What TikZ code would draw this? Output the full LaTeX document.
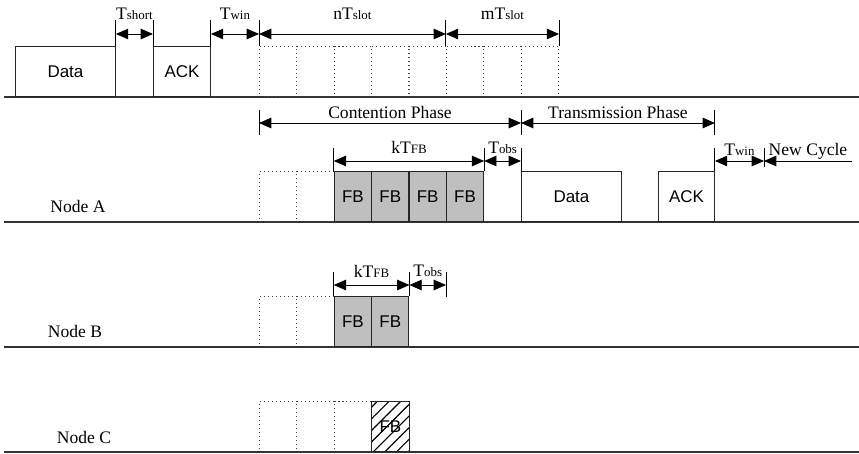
\documentclass[tikz,border=0pt]{standalone}
\usepackage{fontspec}
\setmainfont{Liberation Serif}
\setsansfont{Liberation Sans}
\usetikzlibrary{arrows.meta, positioning, patterns.meta}

\tikzset{
  base/.style={line width=1.3pt, black!80},
  box/.style={draw=black!85, line width=0.8pt, anchor=south west, inner sep=0pt,
    minimum height=1.5cm, font=\sffamily\fontsize{14.5}{16}\selectfont},
  slotbox/.style={draw=black!75, dash pattern=on 0.9pt off 2.5pt, line width=0.9pt,
    anchor=south west, minimum width=1.121cm, minimum height=1.5cm, inner sep=0pt},
  fbbox/.style={box, fill=black!25, minimum width=1.121cm},
  hatchbox/.style={box, minimum width=1.121cm,
    pattern={Lines[angle=45, distance=7pt, line width=1pt]}},
  tick/.style={line width=0.8pt},
  dim/.style={line width=0.8pt, {Triangle[length=10.5pt,width=9pt]}-{Triangle[length=10.5pt,width=9pt]}},
  oneway/.style={line width=0.8pt, -{Triangle[length=10.5pt,width=9pt]}},
  lbl/.style={font=\fontsize{15}{17}\selectfont, anchor=base, inner sep=0pt},
}
\newcommand{\sm}[1]{{\fontsize{11}{12}\selectfont #1}}

\begin{document}
\begin{tikzpicture}[x=0.03cm, y=-0.03cm]
  \useasboundingbox (0,0) rectangle (859,454);

  % previous cycle
  \draw[base] (4,97) -- (859,97);
  \node[box, minimum width=3cm] (data0) at (15,97) {Data};
  \node[box, minimum width=1.71cm] (ack0) at (153,97) {ACK};
  \foreach \i in {0,...,7}
    \node[slotbox] (s\i) at (259+37.375*\i,97) {};

  \coordinate (lvl0) at (0,20);
  \coordinate (arr0) at (0,34);
  \foreach \p in {data0.north east, ack0.north west, ack0.north east, s0.north west, s5.north west, s7.north east}
    \draw[tick] (\p) -- (\p |- lvl0);
  \draw[dim] (data0.north east |- arr0) -- node[lbl, yshift=12pt] {T\sm{short}} (ack0.north west |- arr0);
  \draw[dim] (ack0.north east |- arr0) -- node[lbl, yshift=12pt] {T\sm{win}} (s0.north west |- arr0);
  \draw[dim] (s0.north west |- arr0) -- node[lbl, yshift=12pt] {nT\sm{slot}} (s5.north west |- arr0);
  \draw[dim] (s5.north west |- arr0) -- node[lbl, yshift=12pt] {mT\sm{slot}} (s7.north east |- arr0);

  % Node A
  \draw[base] (4,222) -- (859,222);
  \node[lbl] (nodeA) at (78,213) {Node A};
  \foreach \i in {0,1}
    \node[slotbox] (a\i) at (259+37.375*\i,222) {};
  \foreach \i in {2,...,5}
    \node[fbbox] (fa\i) at (259+37.375*\i,222) {FB};
  \node[box, minimum width=3cm] (dataA) at (521,222) {Data};
  \node[box, minimum width=1.68cm] (ackA) at (658,222) {ACK};
  \coordinate (cyc) at (764,167);

  % phases
  \coordinate (lvl1) at (0,110);
  \coordinate (lvl1b) at (0,135);
  \coordinate (arr1) at (0,123);
  \foreach \p in {s0.north west, dataA.north west, ackA.north east}
    \draw[tick] (\p |- lvl1) -- (\p |- lvl1b);
  \draw[dim] (s0.north west |- arr1) -- node[lbl, yshift=4pt] {Contention Phase} (dataA.north west |- arr1);
  \draw[dim] (dataA.north west |- arr1) -- node[lbl, yshift=4pt] {Transmission Phase} (ackA.north east |- arr1);

  \coordinate (lvl2) at (0,148);
  \coordinate (arr2) at (0,161);
  \foreach \p in {fa2.north west, fa5.north east, dataA.north west, ackA.north east, cyc}
    \draw[tick] (\p) -- (\p |- lvl2);
  \coordinate (cycEnd) at (852,161);
  \draw[dim] (fa2.north west |- arr2) -- node[lbl, yshift=6.5pt] {kT\sm{FB}} (fa5.north east |- arr2);
  \draw[dim] (fa5.north east |- arr2) -- node[lbl, yshift=6.5pt] {T\sm{obs}} (dataA.north west |- arr2);
  \draw[dim] (ackA.north east |- arr2) -- node[lbl, yshift=5pt] {T\sm{win}} (cyc |- arr2);
  \draw[oneway] (cycEnd) -- node[lbl, yshift=5pt] {New Cycle} (cyc |- arr2);

  % Node B
  \draw[base] (4,347) -- (859,347);
  \node[lbl] (nodeB) at (75,337) {Node B};
  \foreach \i in {0,1}
    \node[slotbox] (b\i) at (259+37.375*\i,347) {};
  \foreach \i in {2,3}
    \node[fbbox] (fb\i) at (259+37.375*\i,347) {FB};
  \coordinate (obsB) at (446,297);

  \coordinate (lvl3) at (0,272);
  \coordinate (arr3) at (0,285);
  \foreach \p in {fb2.north west, fb3.north east, obsB}
    \draw[tick] (\p) -- (\p |- lvl3);
  \draw[dim] (fb2.north west |- arr3) -- node[lbl, yshift=6.5pt] {kT\sm{FB}} (fb3.north east |- arr3);
  \draw[dim] (fb3.north east |- arr3) -- node[lbl, yshift=7.5pt] {T\sm{obs}} (obsB |- arr3);

  % Node C
  \draw[base] (4,452) -- (859,452);
  \node[lbl] (nodeC) at (84,443) {Node C};
  \foreach \i in {0,1,2}
    \node[slotbox] (c\i) at (259+37.375*\i,452) {};
  \node[hatchbox] (fc3) at (259+37.375*3,452) {FB};
\end{tikzpicture}
\end{document}
